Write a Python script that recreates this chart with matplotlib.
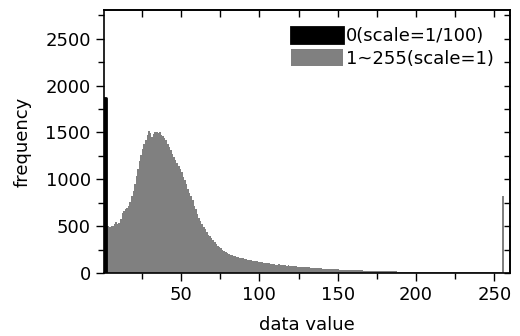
import matplotlib.pyplot as plt
from matplotlib.ticker import MultipleLocator

plt.rcParams['font.family'] = ['DejaVu Sans']

# значение 0 (масштаб 1/100) и значения 1..255
zero_value = [0]
zero_count = [1862]

values = list(range(1, 256))
counts = [
    640, 600, 500, 495, 505, 500, 520, 545, 530, 540,
    580, 640, 660, 690, 700, 715, 760, 820, 880, 950,
    1040, 1110, 1200, 1260, 1320, 1380, 1420, 1470, 1520, 1490,
    1450, 1480, 1500, 1510, 1490, 1500, 1470, 1460, 1440, 1420,
    1380, 1340, 1310, 1270, 1240, 1210, 1180, 1140, 1110, 1080,
    1030, 990, 950, 900, 860, 820, 780, 720, 680, 630,
    590, 560, 530, 490, 470, 440, 410, 400, 380, 350,
    330, 310, 290, 275, 265, 250, 240, 225, 215, 205,
    200, 195, 185, 180, 175, 170, 165, 160, 158, 155,
    150, 145, 140, 140, 135, 132, 130, 128, 125, 122,
    118, 115, 112, 110, 108, 105, 100, 98, 95, 93,
    92, 95, 90, 88, 86, 84, 82, 85, 80, 78,
    76, 75, 74, 72, 70, 70, 68, 66, 65, 64,
    62, 60, 60, 58, 57, 55, 54, 54, 52, 50,
    50, 48, 47, 46, 45, 44, 45, 43, 42, 41,
    40, 40, 38, 38, 37, 36, 35, 35, 34, 33,
    32, 32, 31, 30, 30, 29, 29, 28, 28, 27,
    27, 26, 26, 25, 25, 24, 24, 23, 23, 22,
    22, 22, 21, 21, 20, 20, 20, 19, 19, 18,
    18, 18, 17, 17, 17, 16, 16, 16, 16, 15,
    15, 15, 15, 15, 14, 14, 14, 14, 14, 14,
    13, 14, 13, 13, 14, 13, 13, 12, 13, 13,
    12, 13, 12, 12, 13, 12, 12, 12, 13, 12,
    12, 12, 12, 11, 12, 12, 11, 12, 12, 12,
    11, 12, 11, 12, 11, 12, 11, 11, 12, 11,
    11, 12, 11, 11, 820,
]

fig = plt.figure(figsize=(5.2, 3.36), dpi=100)
ax = fig.add_axes([0.2, 0.1866, 0.781, 0.7824])

ax.bar(values, counts, width=1, align='edge', color='#808080', linewidth=0,
       label='1~255(scale=1)')
ax.bar(zero_value, zero_count, width=2, align='edge', color='black',
       edgecolor='black', linewidth=2, joinstyle='round',
       label='0(scale=1/100)', zorder=3)

ax.set_xlim(0.8, 260)
ax.set_ylim(0, 2800)
ax.xaxis.set_major_locator(MultipleLocator(50))
ax.xaxis.set_minor_locator(MultipleLocator(25))
ax.yaxis.set_major_locator(MultipleLocator(500))
ax.yaxis.set_minor_locator(MultipleLocator(250))

ax.tick_params(which='both', labelsize=13, width=1, direction='out')
ax.tick_params(which='major', length=6)
ax.tick_params(which='minor', length=4)
for spine in ax.spines.values():
    spine.set_linewidth(1.2)

# зеркальные деления сверху и справа (внутрь)
top = ax.secondary_xaxis('top')
top.xaxis.set_major_locator(MultipleLocator(25))
top.tick_params(direction='in', length=5, width=1, labeltop=False)
right = ax.secondary_yaxis('right')
right.yaxis.set_major_locator(MultipleLocator(250))
right.tick_params(direction='in', length=4, width=1, labelright=False)
top.spines['top'].set_linewidth(1.2)
right.spines['right'].set_linewidth(1.2)

ax.set_xlabel('data value', fontsize=13, labelpad=8)
ax.set_ylabel('frequency', fontsize=13, labelpad=10)

handles, labels = ax.get_legend_handles_labels()
ax.legend(handles[::-1], labels[::-1], loc='upper right', frameon=False,
          fontsize=13, handlelength=2.9, handleheight=1.0, handletextpad=0.15,
          labelspacing=0.25, borderaxespad=0.5)

fig.savefig('out.png', dpi=100)
